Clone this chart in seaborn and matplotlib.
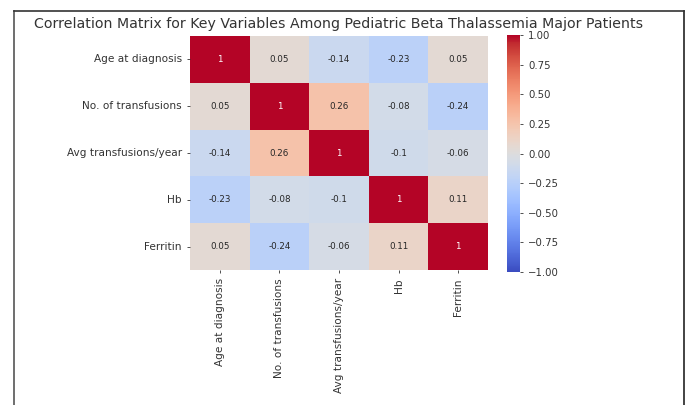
import pandas as pd
import matplotlib
matplotlib.use('Agg')
import matplotlib.pyplot as plt
import seaborn as sns
from matplotlib.lines import Line2D

# --- Data ---
variables = ['Age at diagnosis', 'No. of transfusions', 'Avg transfusions/year', 'Hb', 'Ferritin']
row_age = [1.00, 0.05, -0.14, -0.23, 0.05]
row_transfusions = [0.05, 1.00, 0.26, -0.08, -0.24]
row_avg_per_year = [-0.14, 0.26, 1.00, -0.10, -0.06]
row_hb = [-0.23, -0.08, -0.10, 1.00, 0.11]
row_ferritin = [0.05, -0.24, -0.06, 0.11, 1.00]

corr = pd.DataFrame(
    [row_age, row_transfusions, row_avg_per_year, row_hb, row_ferritin],
    index=variables, columns=variables,
)

# --- Figure ---
fig = plt.figure(figsize=(6.9, 4.05), dpi=100)
ax = fig.add_axes([0.2754, 0.3333, 0.4319, 0.5778])
cax = fig.add_axes([0.7348, 0.3284, 0.0188, 0.585])

sns.heatmap(
    corr,
    annot=True,
    fmt='.2g',
    cmap='coolwarm',
    vmin=-1, vmax=1,
    ax=ax,
    cbar_ax=cax,
    annot_kws={'fontsize': 6.3},
)

ax.set_title('Correlation Matrix for Key Variables Among Pediatric Beta Thalassemia Major Patients',
             fontsize=10.2, color='#333333', pad=6)
ax.tick_params(axis='both', labelsize=7.6, length=2.5, width=0.6, colors='#333333')
plt.setp(ax.get_xticklabels(), rotation=90)
plt.setp(ax.get_yticklabels(), rotation=0)
cax.tick_params(labelsize=7.3, length=2.5, width=0.6, colors='#333333')

# screenshot frame around the output cell
for xs, ys, c in [([14 / 690, 14 / 690], [0, 1 - 11 / 405], '#555555'),
                  ([684 / 690, 684 / 690], [0, 1 - 11 / 405], '#222222'),
                  ([14 / 690, 684 / 690], [1 - 11 / 405, 1 - 11 / 405], '#333333')]:
    fig.add_artist(Line2D(xs, ys, color=c, linewidth=1.2, transform=fig.transFigure))

fig.savefig('out.png', dpi=100)
